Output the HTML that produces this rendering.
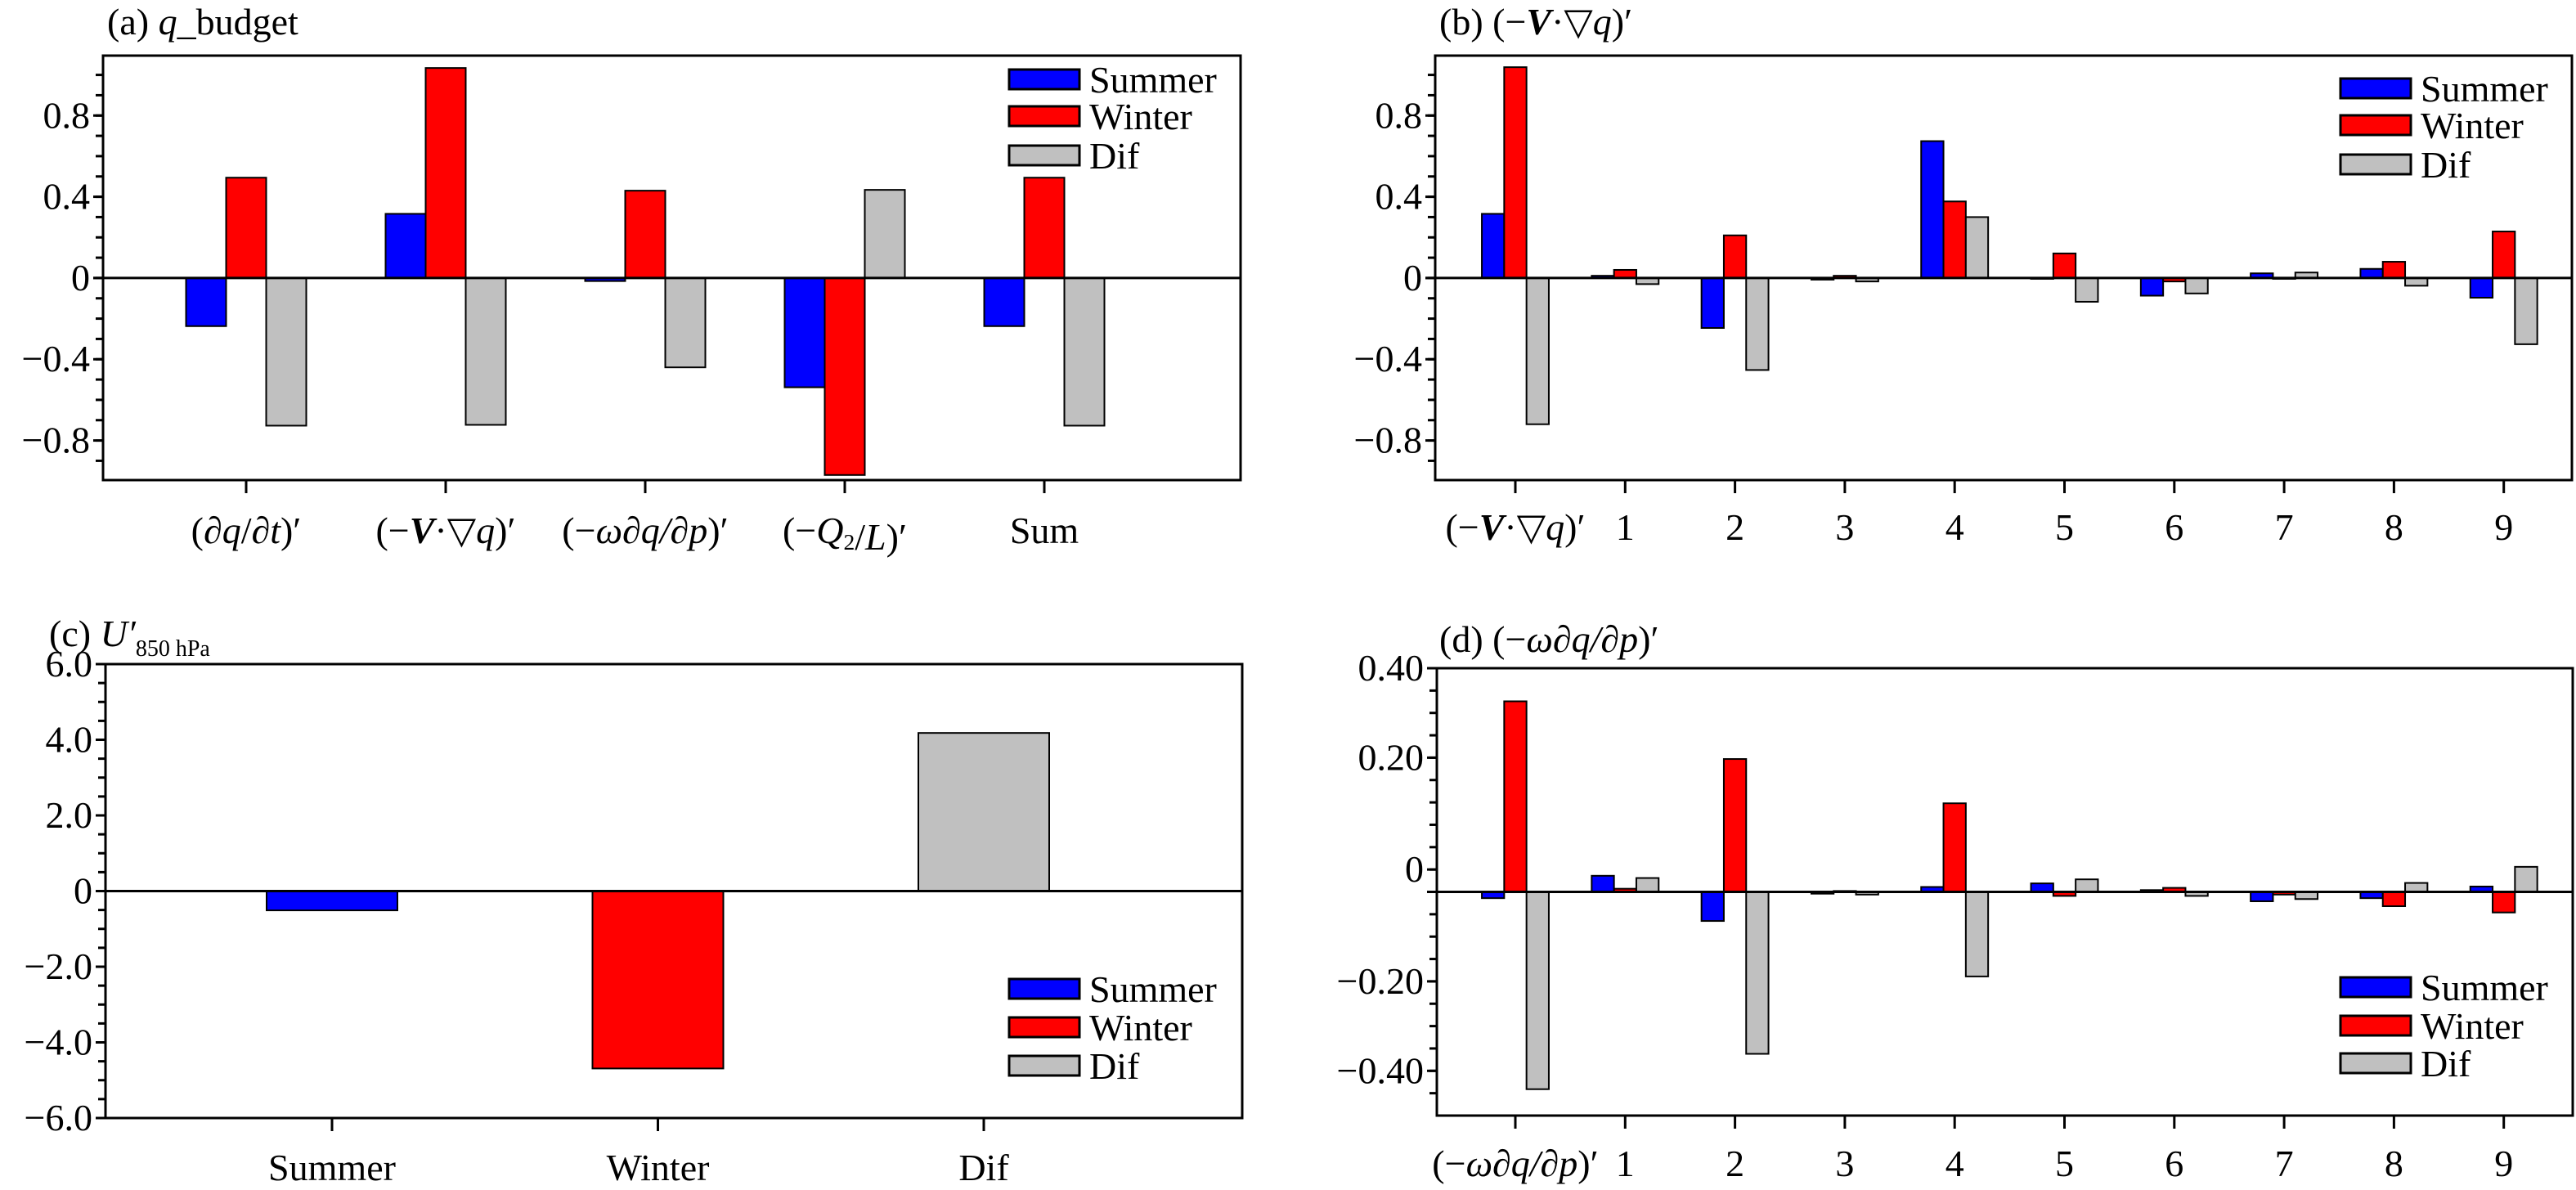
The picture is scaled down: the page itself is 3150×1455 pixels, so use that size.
<!DOCTYPE html>
<html><head><meta charset="utf-8"><style>
html,body{margin:0;padding:0;background:#fff;}
svg{display:block;font-family:"Liberation Serif","DejaVu Serif",serif;}
</style></head><body>
<svg id="fig" width="3150" height="1455" viewBox="0 0 3150 1455" xmlns="http://www.w3.org/2000/svg"></svg>
<script>
// ---------- data ----------
const seriesNames = ['Summer','Winter','Dif'];
const seriesColors = ['#0000ff','#ff0000','#c0c0c0'];

const catsA = ['(∂q/∂t)′','(−V·▽q)′','(−ω∂q/∂p)′','(−Q2/L)′','Sum'];
const aSummer = [-0.237, 0.316, -0.015, -0.538, -0.237];
const aWinter = [0.494, 1.034, 0.43, -0.97, 0.494];
const aDif = [-0.727, -0.723, -0.44, 0.434, -0.727];
const ticksA = [-0.8, -0.4, 0, 0.4, 0.8];
const tickLabelsA = ['−0.8','−0.4','0','0.4','0.8'];

const catsB = ['(−V·▽q)′','1','2','3','4','5','6','7','8','9'];
const bSummer = [0.316, 0.011, -0.246, -0.008, 0.674, 0, -0.087, 0.023, 0.045, -0.097];
const bWinter = [1.038, 0.04, 0.21, 0.011, 0.377, 0.121, -0.017, 0, 0.08, 0.229];
const bDif = [-0.72, -0.03, -0.453, -0.017, 0.30, -0.117, -0.076, 0.027, -0.038, -0.326];

const catsC = ['Summer','Winter','Dif'];
const cValues = [-0.51, -4.69, 4.18];
const ticksC = [-6, -4, -2, 0, 2, 4, 6];
const tickLabelsC = ['−6.0','−4.0','−2.0','0','2.0','4.0','6.0'];

const catsD = ['(−ω∂q/∂p)′','1','2','3','4','5','6','7','8','9'];
const dSummer = [-0.014, 0.036, -0.065, -0.004, 0.011, 0.019, 0.004, -0.021, -0.014, 0.012];
const dWinter = [0.426, 0.007, 0.297, 0.002, 0.198, -0.009, 0.009, -0.006, -0.032, -0.046];
const dDif = [-0.441, 0.031, -0.362, -0.006, -0.189, 0.028, -0.009, -0.016, 0.02, 0.056];
const ticksD = [0.5, 0.3, 0.05, -0.2, -0.4];
const tickLabelsD = ['0.40','0.20','0','−0.20','−0.40'];

// ---------- helpers ----------
const NS = 'http://www.w3.org/2000/svg';
const svg = document.getElementById('fig');
function mk(tag, attrs, parent){
  const e = document.createElementNS(NS, tag);
  for (const k in attrs) e.setAttribute(k, attrs[k]);
  (parent||svg).appendChild(e);
  return e;
}
function richLabel(parent, x, y, key, size, anchor){
  const t = mk('text', {x:x, y:y, 'font-size':size, 'text-anchor':anchor||'middle'}, parent);
  const parts = {
    '(∂q/∂t)′': [['(∂',''],['q','i'],['/∂',''],['t','i'],[')′','']],
    '(−V·▽q)′': [['(−',''],['V','bi'],['·▽',''],['q','i'],[')′','']],
    '(−ω∂q/∂p)′': [['(−',''],['ω∂q/∂p','i'],[')′','']],
    '(−ω∂q/∂p)′d': [['(−',''],['ω∂q/∂p','i'],[')′','']],
    '(−Q2/L)′': [['(−',''],['Q','i'],['2','sub'],['/',''],['L','i'],[')′','']]
  }[key] || [[key,'']];
  for (const [s, st] of parts){
    const sp = document.createElementNS(NS,'tspan');
    sp.textContent = s;
    if (st.includes('i') && st!=='') sp.setAttribute('font-style','italic');
    if (st==='bi') { sp.setAttribute('font-weight','bold'); sp.setAttribute('font-style','italic'); }
    if (st==='sub') { sp.setAttribute('font-size', size*0.6); sp.setAttribute('dy', 8); sp.setAttribute('font-style','normal'); }
    t.appendChild(sp);
    if (st==='sub'){ const f=document.createElementNS(NS,'tspan'); f.setAttribute('dy',-8); t.appendChild(f); }
  }
  return t;
}

function panel(cfg){
  const g = mk('g', {});
  
  
  const {L,R,T,B,ymin,ymax} = cfg;
  const ys = v => B - (v - ymin) / (ymax - ymin) * (B - T);
  const xs = i => cfg.x0 + i * cfg.dx;
  // frame
  const fr = mk('rect', {x:L, y:T, width:R-L, height:B-T, fill:'#fff', stroke:'#000', 'stroke-width':3}, g);
  
  
  // minor ticks
  for (let v = cfg.minorStart; v <= ymax + 1e-9; v += cfg.minorStep){
    const y = ys(v);
    if (y < T-1 || y > B+1) continue;
    const tk = mk('line', {x1:L-9, x2:L, y1:y, y2:y, stroke:'#000', 'stroke-width':3}, g);
    
    
  }
  // tick labels
  cfg.ticks.forEach((v, i) => {
    const y = ys(v);
    const tk = mk('line', {x1:L-12, x2:L, y1:y, y2:y, stroke:'#000', 'stroke-width':3}, g);
    
    
    const t = mk('text', {x:L-16, y:y+15, 'font-size':46, 'text-anchor':'end'}, g);
    t.textContent = cfg.tickLabels[i];
    
    
  });
  // bars
  const y0 = ys(0);
  cfg.series.forEach((arr, s) => {
    arr.forEach((v, i) => {
      const cx = xs(i) + (cfg.offsets ? cfg.offsets[s] : 0) * cfg.bw;
      const yv = ys(v);
      const r = mk('rect', {x:cx - cfg.bw/2, y:Math.min(yv,y0), width:cfg.bw, height:Math.max(Math.abs(yv-y0),1),
        fill:(cfg.colorByIndex ? seriesColors[i] : seriesColors[s]), stroke:'#000', 'stroke-width':2}, g);
      
      
    });
  });
  // zero line
  const zl = mk('line', {x1:L-12, x2:R, y1:y0, y2:y0, stroke:'#000', 'stroke-width':3}, g);
  
  
  // x ticks & labels
  cfg.cats.forEach((c, i) => {
    const x = xs(i);
    const tk = mk('line', {x1:x, x2:x, y1:B, y2:B+16, stroke:'#000', 'stroke-width':3}, g);
    
    
    const t = richLabel(g, x, cfg.labelY, c, 46, 'middle');
    
    
  });
  // legend
  seriesNames.forEach((n, s) => {
    const y = cfg.legY[s];
    const sw = mk('rect', {x:cfg.legX, y:y-12, width:86, height:24, fill:seriesColors[s], stroke:'#000', 'stroke-width':3}, g);
    
    
    const t = mk('text', {x:cfg.legX+98, y:y+16, 'font-size':46}, g);
    t.textContent = n;
    
    
  });
  // title
  const tt = mk('text', {x:cfg.titleX, y:cfg.titleY, 'font-size':46}, g);
  cfg.title(tt);
  
  
}
function span(t, s, attrs){
  const sp = document.createElementNS(NS,'tspan');
  sp.textContent = s;
  for (const k in (attrs||{})) sp.setAttribute(k, attrs[k]);
  t.appendChild(sp);
  return sp;
}

panel({name:'panel-a-q-budget', L:126, R:1517, T:68, B:587, ymin:-0.995, ymax:1.095,
  ticks:ticksA, tickLabels:tickLabelsA, minorStart:-0.9, minorStep:0.1,
  x0:301, dx:244, bw:49, offsets:[-1,0,1], cats:catsA, series:[aSummer,aWinter,aDif],
  labelY:664, legX:1234, legY:[97,142,190], titleX:131, titleY:42,
  title:t=>{span(t,'(a) ');span(t,'q',{'font-style':'italic'});span(t,'_budget');}});

panel({name:'panel-b-advection', L:1755, R:3145, T:68, B:587, ymin:-0.995, ymax:1.095,
  ticks:ticksA, tickLabels:tickLabelsA, minorStart:-0.9, minorStep:0.1,
  x0:1853, dx:134.3, bw:27.3, offsets:[-1,0,1], cats:catsB, series:[bSummer,bWinter,bDif],
  labelY:660, legX:2862, legY:[108,153,201], titleX:1760, titleY:42,
  title:t=>{span(t,'(b) (−');span(t,'V',{'font-style':'italic','font-weight':'bold'});span(t,'·▽');span(t,'q',{'font-style':'italic'});span(t,')′');}});

panel({name:'panel-c-u850', L:129, R:1519, T:812, B:1367, ymin:-6, ymax:6,
  ticks:ticksC, tickLabels:tickLabelsC, minorStart:-5.5, minorStep:0.5,
  x0:406, dx:398.5, bw:160, offsets:[0,0,0], colorByIndex:true, cats:catsC, series:[cValues],
  labelY:1443, legX:1234, legY:[1209,1256,1303], titleX:60, titleY:790,
  title:t=>{span(t,'(c) ');span(t,'U′',{'font-style':'italic'});span(t,'850 hPa',{'font-size':28,dy:12});}});

panel({name:'panel-d-vertical-advection', L:1757, R:3146, T:817, B:1364, ymin:-0.5, ymax:0.5,
  ticks:ticksD, tickLabels:tickLabelsD, minorStart:-0.45, minorStep:0.05,
  x0:1853, dx:134.3, bw:27.3, offsets:[-1,0,1], cats:catsD, series:[dSummer,dWinter,dDif],
  labelY:1438, legX:2862, legY:[1207,1254,1300], titleX:1760, titleY:797,
  title:t=>{span(t,'(d) (−');span(t,'ω∂q/∂p',{'font-style':'italic'});span(t,')′');}});
</script>
</body></html>
